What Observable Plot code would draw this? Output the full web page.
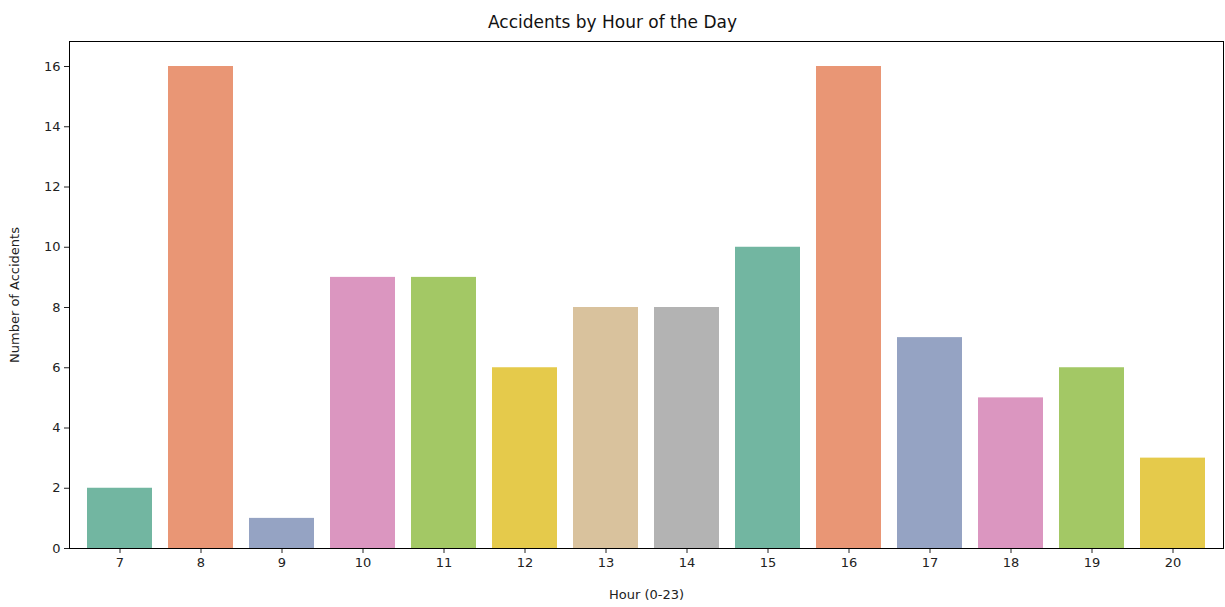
<!DOCTYPE html>
<html>
<head>
<meta charset="utf-8">
<script src="https://cdn.jsdelivr.net/npm/d3@7"></script>
<script src="https://cdn.jsdelivr.net/npm/@observablehq/plot@0.6"></script>
<style>
  body { margin: 0; background: #fff; font-family: "DejaVu Sans", sans-serif; }
  #title { height: 36px; line-height: 44px; text-align: center; font-size: 17px; color: #111; }
</style>
</head>
<body>
<div id="title">Accidents by Hour of the Day</div>
<div id="chart"></div>
<script>
const hours = [7, 8, 9, 10, 11, 12, 13, 14, 15, 16, 17, 18, 19, 20];
const counts = [2, 16, 1, 9, 9, 6, 8, 8, 10, 16, 7, 5, 6, 3];
const palette = ["#72b6a1", "#e99675", "#95a3c3", "#db96c0", "#a3c865", "#e5ca4b", "#d9c29d", "#b3b3b3"];

const data = hours.map((h, i) => ({hour: h, count: counts[i], color: palette[i % palette.length]}));

const chart = Plot.plot({
  width: 1225,
  height: 571,
  marginTop: 5,
  marginLeft: 69,
  marginRight: 2,
  marginBottom: 59,
  style: {fontSize: "13px", fontFamily: "DejaVu Sans, sans-serif", color: "#222"},
  x: {domain: hours, padding: 0.2, label: "Hour (0-23)", labelAnchor: "center", labelOffset: 50, tickSize: 5},
  y: {domain: [0, 16.83], ticks: d3.range(0, 17, 2), label: "Number of Accidents", labelAnchor: "center", labelOffset: 60, labelArrow: "none", tickSize: 5},
  marks: [
    Plot.barY(data, {x: "hour", y: "count", fill: "color"}),
    Plot.frame({stroke: "#000"})
  ]
});
d3.select("#chart").append(() => chart);
</script>
</body>
</html>
